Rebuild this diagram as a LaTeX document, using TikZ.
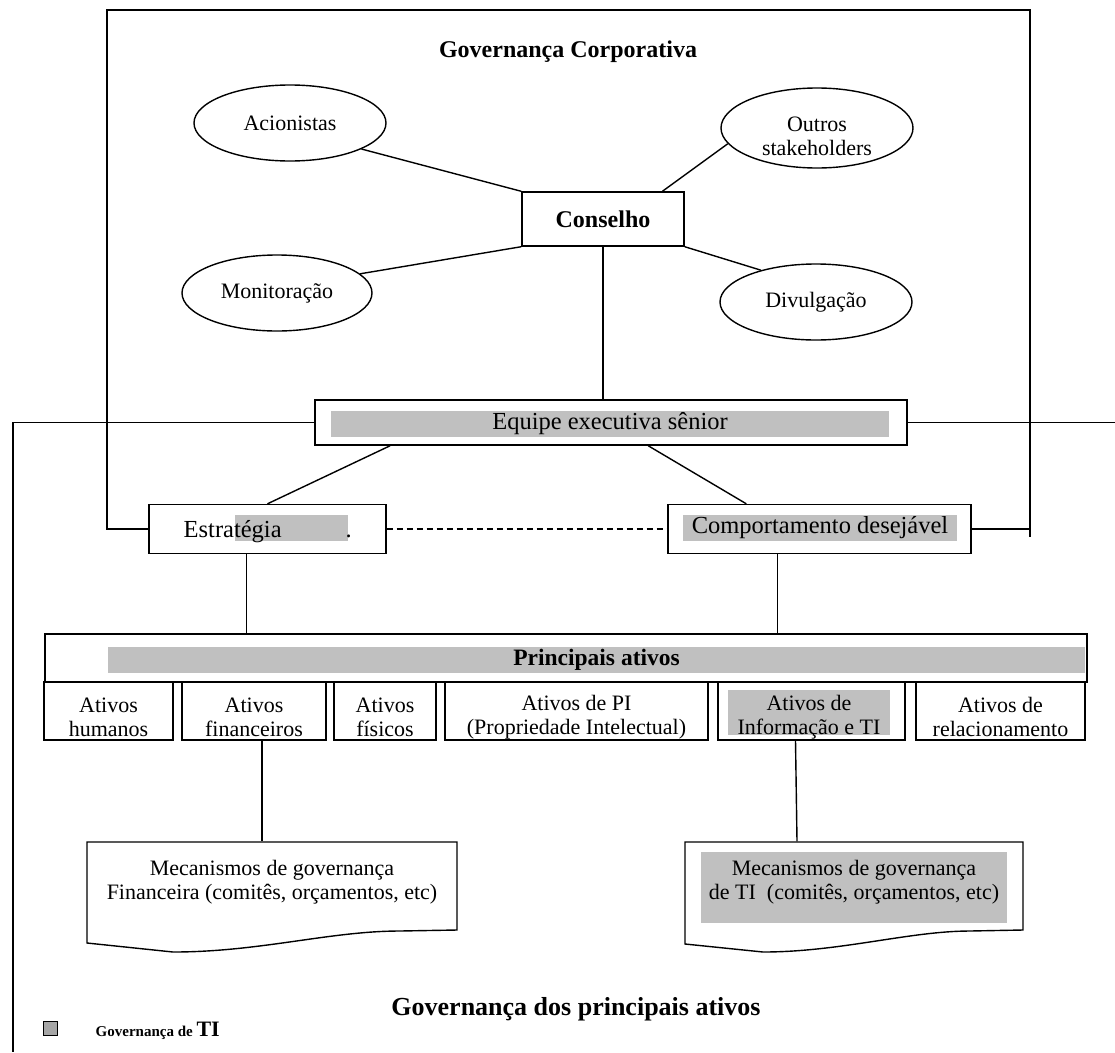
\documentclass[tikz,border=0pt]{standalone}
\usepackage{fontspec}
\setmainfont{Liberation Serif}
\usetikzlibrary{shapes.geometric,calc}
\definecolor{hlgray}{HTML}{C0C0C0}
\definecolor{keygray}{HTML}{A6A6A6}

\begin{document}
\begin{tikzpicture}[
      x=1pt,y=-1pt,
      line width=1.4pt,
      every node/.style={font=\fontsize{22}{24}\selectfont,inner sep=0pt},
      box/.style={draw,rectangle,align=center},
      oval/.style={draw,ellipse,align=center,minimum width=192,minimum height=76},
      cell/.style={draw,rectangle,minimum height=58},
      hl/.style={fill=hlgray,rectangle,align=center},
      big/.style={font=\fontsize{24.5}{28}\selectfont},
      head/.style={font=\fontsize{24}{28}\selectfont\bfseries}
    ]
    \useasboundingbox (0,0) rectangle (1115,1052);
    % corporate governance part
    \node[head] (tgc) at (568,52) {Governança Corporativa};
    \node[oval] (acion) at (290,123) {Acionistas};
    \node[oval,minimum height=80] (outros) at (817,128) {};
    \node[align=center] (outrostxt) at (817,136) {Outros\\stakeholders};
    \node[box,minimum width=162,minimum height=54,font=\fontsize{24}{26}\selectfont\bfseries] (consel) at (603,219) {Conselho};
    \node[oval,minimum width=190] (monit) at (277,293) {Monitoração};
    \node[oval] (divul) at (816,302) {Divulgação};
    \node[box,minimum width=592,minimum height=45] (equipe) at (611,422.5) {};
    \node[hl,big,minimum width=558,minimum height=26] (equipetxt) at (610,424) {Equipe executiva sênior};
    \node[box,minimum width=237,minimum height=49] (estr) at (267.5,529) {};
    \node[hl,minimum width=113,minimum height=26] (estrhl) at (291.5,528) {};
    \node[big,anchor=base west] (estrtxt) at (183,537) {Estratégia\hspace{64pt}.};
    \node[box,minimum width=303,minimum height=49] (comp) at (819.5,529) {};
    \node[hl,big,minimum width=274,minimum height=26] (comptxt) at (820,528) {Comportamento desejável};
    % frames
    \draw (estr.west) -- (107,529) |- (1030,10) -- (1030,537);
    \draw (comp.east) -- (1030,529);
    \draw (equipe.west) -- (13,422.5) -- (13,1052);
    \draw (equipe.east) -- (1115,422.5);
    % main assets
    \node[box,minimum width=1042,minimum height=48] (princ) at (566,658) {};
    \node[hl,minimum width=977,minimum height=26,font=\fontsize{23.5}{26}\selectfont\bfseries] (princtxt) at (596.5,660) {Principais ativos};
    \node[cell,minimum width=129] (hum) at (108.5,711) {};
    \node[cell,minimum width=144] (fin) at (254,711) {};
    \node[cell,minimum width=102] (fis) at (385,711) {};
    \node[cell,minimum width=263] (pi) at (576.5,711) {};
    \node[cell,minimum width=187] (info) at (811.5,711) {};
    \node[hl,minimum width=162,minimum height=45] (infohl) at (809,712.5) {};
    \node[cell,minimum width=169] (rel) at (1000.5,711) {};
    \node[align=center] (humtxt) at ($(hum)+(0,6)$) {Ativos\\humanos};
    \node[align=center] (fintxt) at ($(fin)+(0,6)$) {Ativos\\financeiros};
    \node[align=center] (fistxt) at ($(fis)+(0,6)$) {Ativos\\físicos};
    \node[align=center] (pitxt) at ($(pi)+(0,6)$) {Ativos de PI\\(Propriedade Intelectual)};
    \node[align=center] (infotxt) at (809,717) {Ativos de\\Informação e TI};
    \node[align=center] (reltxt) at ($(rel)+(0,6)$) {Ativos de\\relacionamento};
    % mechanisms
    \node[minimum width=370,minimum height=88] (mecfin) at (272,886) {};
    \draw (87,842) -- (87,943) -- (173,952) .. controls (260,952) and (330,931) .. (400,931) -- (457,930) -- (457,842) -- cycle;
    \node[align=center] (mecfintxt) at (272,882) {Mecanismos de governança\\Financeira (comitês, orçamentos, etc)};
    \node[minimum width=338,minimum height=88] (mecti) at (854,886) {};
    \node[hl,minimum width=306,minimum height=71] (mectihl) at (854,887.5) {};
    \draw (685,842) -- (685,944) -- (763,952) .. controls (840,952) and (910,931) .. (970,931) -- (1023,930) -- (1023,842) -- cycle;
    \node[align=center] (mectitxt) at (854,882) {Mecanismos de governança\\de TI\ \ (comitês, orçamentos, etc)};
    % connectors
    \draw (consel.north west) -- (acion.-20);
    \draw (consel.25) -- (outros.190);
    \draw (consel.south west) -- (monit.13);
    \draw (consel.south east) -- (divul.150);
    \draw (consel.south) -- (consel.south |- equipe.north);
    \draw (equipe.186) -- (estr.north);
    \draw (equipe.328) -- (comp.161);
    \draw[dashed,dash pattern=on 6pt off 4pt] (estr.east) -- (comp.west);
    \draw (estr.230) -- (estr.230 |- princ.north);
    \draw (comp.211) -- (comp.211 |- princ.north);
    \draw ($(fin.south)+(8,0)$) -- ($(mecfin.north)+(-10,0)$);
    \draw ($(info.south)+(-16,0)$) -- ($(mecti.north)+(-57,0)$);
    % asset governance title and key
    \node[font=\fontsize{26}{30}\selectfont\bfseries] (tgpa) at (576,1009) {Governança dos principais ativos};
    \node[draw,fill=keygray,line width=1pt,minimum width=14,minimum height=14] (key) at (50.5,1028) {};
    \node[anchor=west,font=\fontsize{15}{18}\selectfont\bfseries] (keytxt) at (95,1031) {Governança de {\fontsize{22}{24}\selectfont TI}};
  \end{tikzpicture}
\end{document}
